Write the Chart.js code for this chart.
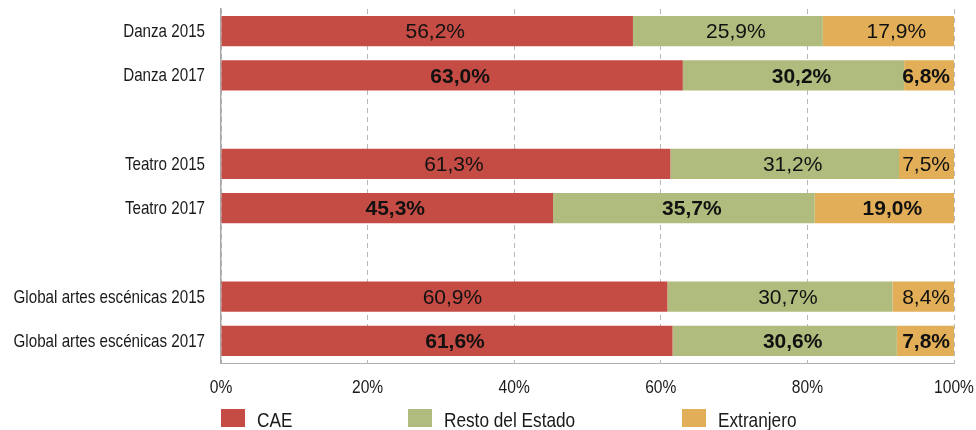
<!DOCTYPE html>
<html lang="es">
<head>
<meta charset="utf-8">
<script src="https://cdn.jsdelivr.net/npm/chart.js@4/dist/chart.umd.min.js"></script>
<style>
  html, body { margin: 0; padding: 0; background: #fff; }
  #box { position: relative; width: 976px; height: 430px; }
</style>
</head>
<body>
<div id="box"><canvas id="chart"></canvas></div>
<script>
// filas vacías ('') separan los grupos
const categorias  = ['Danza 2015', 'Danza 2017', '', 'Teatro 2015', 'Teatro 2017', '', 'Global artes escénicas 2015', 'Global artes escénicas 2017'];
const cae         = [56.2, 63.0, null, 61.3, 45.3, null, 60.9, 61.6];
const restoEstado = [25.9, 30.2, null, 31.2, 35.7, null, 30.7, 30.6];
const extranjero  = [17.9, 6.8, null, 7.5, 19.0, null, 8.4, 7.8];
const negrita     = [false, true, false, false, true, false, false, true];
const series  = ['CAE', 'Resto del Estado', 'Extranjero'];
const colores = ['#c54c44', '#afbc7e', '#e2af58'];
const ticksX  = [0, 20, 40, 60, 80, 100];

const FAMILIA = '"Liberation Sans", Arial, sans-serif';
const ESTRECHO = 0.82; // no hay fuente condensada instalada: se estrecha a mano
const fmt = v => v.toFixed(1).replace('.', ',') + '%';

// texto condensado horizontalmente
function textoEstrecho(ctx, txt, x, y, align, size) {
  ctx.save();
  ctx.font = size + 'px ' + FAMILIA;
  ctx.textAlign = align;
  ctx.translate(x, y);
  ctx.scale(ESTRECHO, 1);
  ctx.fillText(txt, 0, 0);
  ctx.restore();
}

// etiquetas de los ejes y leyenda
const rotulos = {
  id: 'rotulos',
  afterDraw(chart) {
    const ctx = chart.ctx;
    const { x, y } = chart.scales;
    const area = chart.chartArea;
    ctx.save();
    ctx.fillStyle = '#1a1a1a';
    ctx.textBaseline = 'middle';
    categorias.forEach((c, i) => {
      if (c) textoEstrecho(ctx, c, area.left - 16, y.getPixelForValue(i) + 1, 'right', 18.5);
    });
    ticksX.forEach(v => {
      textoEstrecho(ctx, v + '%', x.getPixelForValue(v), area.bottom + 25, 'center', 19);
    });
    // leyenda
    const posLeyenda = [0, 187, 461];
    ctx.textBaseline = 'alphabetic';
    series.forEach((s, i) => {
      const lx = area.left + posLeyenda[i];
      ctx.fillStyle = colores[i];
      ctx.fillRect(lx, 409, 24, 18);
      ctx.fillStyle = '#1a1a1a';
      textoEstrecho(ctx, s, lx + 36, 426.5, 'left', 21);
    });
    ctx.restore();
  }
};

// valores dentro de cada tramo
const valores = {
  id: 'valores',
  afterDatasetsDraw(chart) {
    const ctx = chart.ctx;
    ctx.save();
    ctx.fillStyle = '#111';
    ctx.textBaseline = 'middle';
    ctx.textAlign = 'center';
    chart.data.datasets.forEach((ds, di) => {
      chart.getDatasetMeta(di).data.forEach((bar, i) => {
        const v = ds.data[i];
        if (v == null) return;
        ctx.font = (negrita[i] ? 'bold ' : '') + '21px ' + FAMILIA;
        const txt = fmt(v);
        const w = ctx.measureText(txt).width;
        const left = Math.min(bar.base, bar.x), right = Math.max(bar.base, bar.x);
        let cx = (left + right) / 2 + 8;
        if (cx + w / 2 > right - 4) cx = right - 4 - w / 2;
        ctx.fillText(txt, cx, bar.y + 1.5);
      });
    });
    ctx.restore();
  }
};

new Chart(document.getElementById('chart').getContext('2d'), {
  type: 'bar',
  data: {
    labels: categorias,
    datasets: [
      { label: series[0], data: cae, backgroundColor: colores[0] },
      { label: series[1], data: restoEstado, backgroundColor: colores[1] },
      { label: series[2], data: extranjero, backgroundColor: colores[2] },
    ],
  },
  options: {
    indexAxis: 'y',
    responsive: true,
    maintainAspectRatio: false,
    animation: false,
    layout: { padding: { top: 9, right: 22, bottom: 0, left: 0 } },
    datasets: { bar: { categoryPercentage: 1, barPercentage: 0.68, borderWidth: 0 } },
    scales: {
      x: {
        stacked: true,
        min: 0, max: 100,
        afterBuildTicks: s => { s.ticks = ticksX.map(v => ({ value: v })); },
        afterFit: s => { s.height = 67; },
        ticks: { display: false },
        grid: { color: '#b8b8b8', lineWidth: 1, drawTicks: false },
        border: { display: true, color: '#b0b0b0', dash: [5, 4] },
      },
      y: {
        stacked: true,
        afterFit: s => { s.width = 221; },
        ticks: { display: false },
        grid: { display: false },
        border: { display: true, color: '#a8a8a8', width: 1.5 },
      },
    },
    plugins: {
      legend: { display: false },
      tooltip: { enabled: false },
    },
  },
  plugins: [valores, rotulos],
});
</script>
</body>
</html>
